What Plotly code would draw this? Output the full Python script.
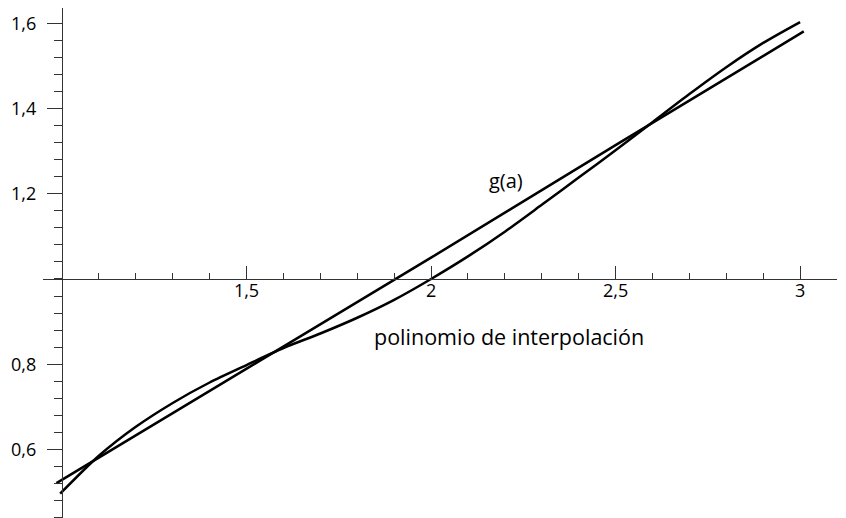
import plotly.graph_objects as go

# g(a): almost straight
g_x = [0.985, 1.5, 2.0, 2.5, 3.01]
g_y = [0.521, 0.790, 1.050, 1.314, 1.581]

# polinomio de interpolación
p_x = [0.995, 1.1, 1.2, 1.3, 1.4, 1.5, 1.6, 1.7, 1.8, 1.9, 2.0,
       2.1, 2.2, 2.3, 2.4, 2.5, 2.6, 2.7, 2.8, 2.9, 3.0]
p_y = [0.496, 0.585, 0.653, 0.709, 0.757, 0.798, 0.838, 0.872, 0.909, 0.951,
       1.000, 1.053, 1.111, 1.174, 1.238, 1.302, 1.368, 1.434, 1.497, 1.554,
       1.603]

x_ticks = [1.5, 2, 2.5, 3]
x_labels = ["1,5", "2", "2,5", "3"]
y_ticks = [0.6, 0.8, 1.2, 1.4, 1.6]
y_labels = ["0,6", "0,8", "1,2", "1,4", "1,6"]

x_range = [0.9485, 3.1]
y_range = [0.439, 1.636]

font = "Open Sans"

fig = go.Figure()
fig.add_trace(go.Scatter(x=g_x, y=g_y, mode="lines",
                         line=dict(color="black", width=2.5)))
fig.add_trace(go.Scatter(x=p_x, y=p_y, mode="lines",
                         line=dict(color="black", width=2.5, shape="spline",
                                   smoothing=0.8)))

fig.add_annotation(x=2.203, y=1.232, text="g(a)", showarrow=False,
                   font=dict(family=font, size=20, color="black"))
fig.add_annotation(x=2.211, y=0.866, text="polinomio de interpolación",
                   showarrow=False, font=dict(family=font, size=21.5, color="black"))

# the page body adds 8px around the figure, so the figure is 8px smaller
fig.update_layout(
    width=838, height=510,
    margin=dict(l=35, r=9, t=0, b=0, autoexpand=False),
    paper_bgcolor="white", plot_bgcolor="white",
    showlegend=False,
    xaxis=dict(
        range=x_range, anchor="free", automargin=False,
        position=(1 - y_range[0]) / (y_range[1] - y_range[0]),
        showline=True, linecolor="#333", linewidth=1.2,
        showgrid=False, zeroline=False,
        tickmode="array", tickvals=x_ticks, ticktext=x_labels,
        ticks="inside", ticklen=13, tickwidth=1.2, tickcolor="#333",
        ticklabelstandoff=-5,
        tickfont=dict(family=font, size=18, color="black"),
        minor=dict(tickmode="linear", tick0=0, dtick=0.1, ticks="inside",
                   ticklen=6, tickwidth=1, tickcolor="#333", showgrid=False),
    ),
    yaxis=dict(
        range=y_range, anchor="free", automargin=False,
        position=(1 - x_range[0]) / (x_range[1] - x_range[0]),
        showline=True, linecolor="#333", linewidth=1.2,
        showgrid=False, zeroline=False,
        tickmode="array", tickvals=y_ticks, ticktext=y_labels,
        ticks="outside", ticklen=15, tickwidth=1.2, tickcolor="#333",
        ticklabelstandoff=7,
        tickfont=dict(family=font, size=18, color="black"),
        minor=dict(tickmode="linear", tick0=0, dtick=0.04, ticks="outside",
                   ticklen=8, tickwidth=1, tickcolor="#333", showgrid=False),
    ),
)

fig.write_html("out.html")
